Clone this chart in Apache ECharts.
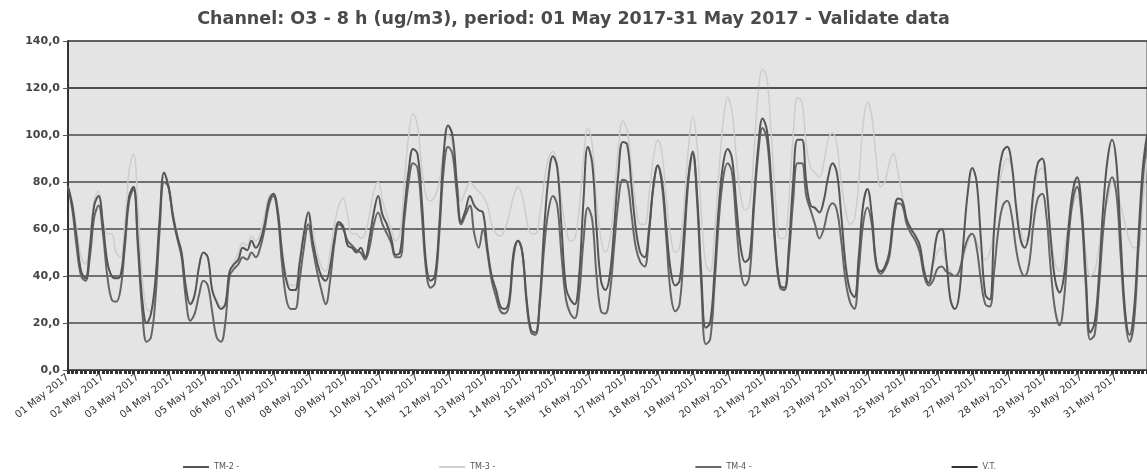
<!DOCTYPE html>
<html>
<head>
<meta charset="utf-8">
<script src="https://cdn.jsdelivr.net/npm/echarts@6/dist/echarts.min.js"></script>
<style>
html,body{margin:0;padding:0;background:#fff;}
#chart{width:1147px;height:474px;}
</style>
</head>
<body>
<div id="chart"></div>
<script>
// Days of the period (one label per day); data every 3 hours (8 points per day)
const days = ["01","02","03","04","05","06","07","08","09","10","11","12","13","14","15","16","17","18","19","20","21","22","23","24","25","26","27","28","29","30","31"];
const hours = ["00","03","06","09","12","15","18","21"];
const yTicks = [0,20,40,60,80,100,120,140];
const vtValue = 120;

const tm2 = [
78,70,56,42,39,52,70,74, 62,46,40,39,40,55,74,78,
55,30,20,24,38,65,84,78, 66,57,50,35,28,32,44,50,
48,34,29,26,28,42,45,47, 52,51,55,52,55,62,72,75,
68,50,38,34,34,45,58,67, 55,46,40,38,44,56,63,61,
53,52,50,52,48,56,67,74, 66,62,56,49,50,68,85,94,
92,72,45,38,40,62,92,104, 100,80,63,68,74,70,68,67,
52,40,34,27,26,30,50,55, 50,30,17,16,30,60,82,91,
86,60,35,30,28,40,72,95, 88,60,38,34,40,60,84,97,
96,78,60,50,48,60,78,87, 80,60,42,36,38,58,82,93,
75,40,18,20,42,70,88,94, 90,70,52,46,48,72,95,107,
102,80,52,36,35,52,80,98, 98,80,70,69,67,72,82,88,
84,66,45,34,31,48,70,77, 66,46,42,44,50,66,73,72,
64,60,57,53,42,37,46,58, 60,48,30,26,32,55,76,86,
80,55,32,30,60,82,93,95, 88,70,56,52,58,76,88,90,
78,55,38,33,40,60,76,82, 70,40,16,20,40,70,90,98,
88,55,25,15,25,55,85,100
];
const tm4 = [
78,68,52,40,38,48,65,70, 58,40,30,29,34,52,72,77,
52,25,12,14,30,60,80,78, 65,56,48,30,21,24,32,38,
36,25,14,12,20,40,43,45, 48,47,50,48,52,60,70,74,
66,45,30,26,26,38,52,62, 52,42,34,28,38,54,62,60,
55,53,51,50,47,52,62,67, 62,58,54,48,48,64,80,88,
86,66,42,35,37,58,85,95, 92,75,62,66,70,58,52,60,
50,38,31,25,24,28,48,55, 50,28,16,15,28,52,68,74,
70,48,30,24,22,32,55,69, 64,40,25,24,32,52,72,81,
80,66,52,46,44,58,78,87, 78,55,32,25,28,52,80,92,
72,35,11,13,36,64,82,88, 84,62,42,36,40,68,92,103,
98,76,50,35,34,48,72,88, 88,74,68,62,56,60,68,71,
68,55,38,29,26,42,62,69, 62,45,41,43,48,63,71,70,
62,58,55,50,40,36,38,43, 44,42,41,40,42,50,56,58,
52,38,28,27,42,60,70,72, 66,52,43,40,45,62,73,75,
65,42,25,19,30,55,72,78, 66,36,13,15,35,60,76,82,
75,48,22,12,20,50,80,97
];
const tm3 = [
78,72,60,48,45,55,72,76, 64,58,58,50,48,62,85,92,
70,40,26,25,38,62,82,80, 68,58,50,36,28,32,44,50,
48,35,30,27,28,42,46,50, 54,53,57,55,58,66,74,75,
70,52,40,36,36,48,60,68, 60,50,44,42,50,62,70,73,
66,58,58,56,58,66,76,80, 72,66,60,55,58,80,100,109,
104,86,74,72,74,80,94,100, 96,80,72,76,80,78,76,74,
70,62,58,57,60,66,74,78, 74,64,58,58,66,80,90,93,
88,72,60,55,56,68,90,103, 96,72,56,50,55,72,95,106,
102,86,70,62,62,74,90,98, 92,72,56,50,52,70,94,108,
96,66,45,42,58,84,106,116, 110,90,74,68,70,92,118,128,
124,100,72,56,56,72,100,116, 114,96,86,84,82,88,98,101,
96,80,68,62,64,80,104,114, 108,90,78,80,88,92,84,74,
64,60,57,52,42,38,44,50, 52,46,42,40,42,48,54,58,
55,50,47,50,60,76,86,90, 86,72,60,55,58,72,84,86,
76,58,45,42,50,62,70,74, 66,50,40,42,52,66,72,80,
76,70,62,55,52,52,70,90
];

const categories = [];
days.forEach(d => hours.forEach(h => categories.push(d + " May 2017 " + h)));

const chart = echarts.init(document.getElementById('chart'));
const fontFam = '"DejaVu Sans", Verdana, sans-serif';
chart.setOption({
  animation: false,
  backgroundColor: '#ffffff',
  title: {
    text: 'Channel: O3 - 8 h (ug/m3), period: 01 May 2017-31 May 2017 - Validate data',
    left: 'center', top: 5,
    textStyle: {fontFamily: fontFam, fontSize: 17.5, fontWeight: 'bold', color: '#4a4a4a'}
  },
  legend: {
    left: 178, top: 458, itemGap: 200,
    icon: 'rect', itemWidth: 26, itemHeight: 2,
    textStyle: {fontFamily: fontFam, fontSize: 8, color: '#555'},
    data: ['TM-2 -', 'TM-3 -', 'TM-4 -', 'V.T.']
  },
  grid: {
    left: 68, right: 0, top: 41, bottom: 104,
    show: true, backgroundColor: '#e4e4e4', borderColor: '#555', borderWidth: 1
  },
  xAxis: {
    type: 'category', data: categories, boundaryGap: false,
    axisLine: {lineStyle: {color: '#333', width: 1}},
    axisTick: {show: true, interval: 0, length: 4, lineStyle: {color: '#333', width: 3}},
    axisLabel: {
      interval: 7, rotate: 38, fontFamily: fontFam, fontSize: 10, color: '#333', margin: 6,
      formatter: v => v.slice(0, 11)
    },
    splitLine: {show: false}
  },
  yAxis: {
    type: 'value', min: yTicks[0], max: yTicks[yTicks.length - 1], interval: 20,
    axisLine: {show: true, lineStyle: {color: '#333', width: 2}},
    axisTick: {show: true, length: 5, lineStyle: {color: '#555'}},
    axisLabel: {
      fontFamily: fontFam, fontSize: 11, fontWeight: 'bold', color: '#444', margin: 8,
      formatter: v => v.toFixed(1).replace('.', ',')
    },
    splitLine: {lineStyle: {color: '#4a4a4a', width: 1.5}}
  },
  series: [
    {name: 'TM-2 -', type: 'line', data: tm2, showSymbol: false, smooth: 0.4, z: 3,
     itemStyle: {color: '#555'}, lineStyle: {color: '#555', width: 2}},
    {name: 'TM-3 -', type: 'line', data: tm3, showSymbol: false, smooth: 0.4, z: 1,
     itemStyle: {color: '#cfcfcf'}, lineStyle: {color: '#cdcdcd', width: 1.5}},
    {name: 'TM-4 -', type: 'line', data: tm4, showSymbol: false, smooth: 0.4, z: 2,
     itemStyle: {color: '#6a6a6a'}, lineStyle: {color: '#666', width: 2}},
    {name: 'V.T.', type: 'line', data: [], showSymbol: false, z: 2,
     itemStyle: {color: '#333'}, lineStyle: {color: '#333', width: 1.5},
     markLine: {silent: true, symbol: 'none', label: {show: false},
       lineStyle: {color: '#444', width: 1.5, type: 'solid'},
       data: [{yAxis: vtValue}]}}
  ]
});
</script>
</body>
</html>
